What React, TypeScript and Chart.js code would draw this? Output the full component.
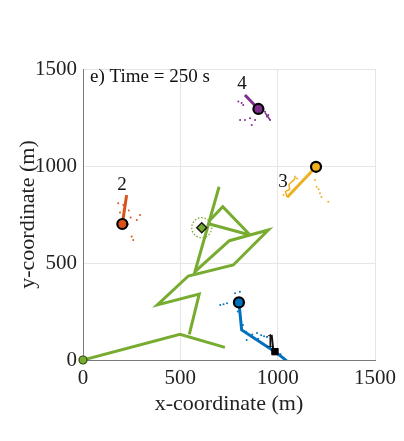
import React, { useEffect, useRef } from "react";
import { Chart, registerables } from "chart.js";

Chart.register(...registerables);

// ---- data ----
const xTicks = [0, 500, 1000, 1500];
const yTicks = [0, 500, 1000, 1500];

const greenStart = [{ x: 0, y: 0 }];
const greenPathA = [
  { x: 0, y: 0 },
  { x: 498, y: 132 },
  { x: 729, y: 65 },
];
const greenPathB = [
  { x: 546, y: 132 },
  { x: 597, y: 340 },
  { x: 382, y: 284 },
  { x: 541, y: 433 },
  { x: 772, y: 490 },
  { x: 952, y: 670 },
  { x: 858, y: 644 },
  { x: 752, y: 615 },
  { x: 575, y: 455 },
  { x: 699, y: 893 },
];
const greenPathC = [
  { x: 649, y: 718 },
  { x: 718, y: 790 },
  { x: 858, y: 644 },
];
const greenPathD = [
  { x: 645, y: 702 },
  { x: 858, y: 644 },
];
const targetPoint = [{ x: 610, y: 682 }];

const agent1Path = [
  { x: 801, y: 297 },
  { x: 815, y: 155 },
  { x: 986, y: 43 },
  { x: 1029, y: 10 },
  { x: 1075, y: -30 },
];
const agent1Heading = [
  { x: 969, y: 129 },
  { x: 977, y: 55 },
];
const agent1Dots = [
  { x: 705, y: 283 }, { x: 722, y: 288 }, { x: 740, y: 292 }, { x: 781, y: 344 },
  { x: 806, y: 352 }, { x: 795, y: 250 }, { x: 810, y: 215 }, { x: 822, y: 180 },
  { x: 838, y: 145 }, { x: 841, y: 103 }, { x: 870, y: 132 }, { x: 894, y: 139 },
  { x: 915, y: 128 }, { x: 930, y: 122 }, { x: 945, y: 119 }, { x: 900, y: 110 },
  { x: 1000, y: 55 }, { x: 1015, y: 30 },
];
const agent1Start = [{ x: 801, y: 297 }];
const agent1End = [{ x: 986, y: 43 }];

const agent2Path = [
  { x: 202, y: 701 },
  { x: 224, y: 850 },
];
const agent2Dots = [
  { x: 207, y: 799 }, { x: 181, y: 808 }, { x: 293, y: 747 }, { x: 276, y: 722 },
  { x: 250, y: 636 }, { x: 258, y: 619 }, { x: 235, y: 770 }, { x: 245, y: 735 },
  { x: 190, y: 760 }, { x: 230, y: 700 },
];
const agent2Pos = [{ x: 202, y: 701 }];

const agent3Path = [
  { x: 1197, y: 996 },
  { x: 1049, y: 839 },
];
const agent3Squiggle = [
  { x: 1049, y: 839 },
  { x: 1040, y: 868 },
  { x: 1062, y: 880 },
  { x: 1058, y: 905 },
  { x: 1085, y: 930 },
  { x: 1092, y: 950 },
];
const agent3Dots = [
  { x: 1200, y: 893 }, { x: 1217, y: 859 }, { x: 1260, y: 816 }, { x: 1192, y: 928 },
  { x: 1210, y: 880 }, { x: 1225, y: 840 }, { x: 1030, y: 850 }, { x: 1100, y: 935 },
];
const agent3Pos = [{ x: 1197, y: 996 }];

const agent4Path = [
  { x: 901, y: 1294 },
  { x: 832, y: 1366 },
];
const agent4Branch = [
  { x: 935, y: 1275 },
  { x: 961, y: 1237 },
];
const agent4Dots = [
  { x: 798, y: 1332 }, { x: 823, y: 1315 }, { x: 832, y: 1237 }, { x: 858, y: 1246 },
  { x: 884, y: 1237 }, { x: 935, y: 1280 }, { x: 952, y: 1263 }, { x: 961, y: 1237 },
  { x: 807, y: 1237 }, { x: 867, y: 1211 }, { x: 815, y: 1325 }, { x: 945, y: 1255 },
];
const agent4Pos = [{ x: 901, y: 1294 }];

const agentLabels = ["1", "2", "3", "4"];
const agentLabelX = [961, 200, 1027, 817];
const agentLabelY = [93, 902, 918, 1423];

const panelTitle = "e) Time = 250 s";

// ---- colours ----
const BLUE = "#0072BD";
const ORANGE = "#D95319";
const YELLOW = "#EDB120";
const PURPLE = "#7E2F8E";
const GREEN = "#77AC30";

const SERIF = "'Liberation Serif', 'DejaVu Serif', serif";

function line(data: any[], color: string, width = 3, order = 5) {
  return {
    type: "line" as const,
    data,
    borderColor: color,
    backgroundColor: color,
    borderWidth: width,
    pointRadius: 0,
    fill: false,
    tension: 0,
    order,
  };
}

function dots(data: any[], color: string) {
  return {
    type: "scatter" as const,
    data,
    borderColor: color,
    backgroundColor: color,
    pointRadius: 1,
    borderWidth: 0,
    order: 8,
  };
}

function marker(data: any[], fill: string, style: any, radius: number, edge = "#000", bw = 2) {
  return {
    type: "scatter" as const,
    data,
    backgroundColor: fill,
    borderColor: edge,
    borderWidth: bw,
    pointRadius: radius,
    pointStyle: style,
    clip: false,
    order: 0,
  };
}

const overlayPlugin = {
  id: "overlay",
  afterDatasetsDraw(chart: any) {
    const { ctx, scales, chartArea } = chart;
    const xs = scales.x;
    const ys = scales.y;
    ctx.save();
    // dotted ring around target
    const tx = xs.getPixelForValue(targetPoint[0].x);
    const ty = ys.getPixelForValue(targetPoint[0].y);
    ctx.beginPath();
    ctx.setLineDash([1.5, 1.8]);
    ctx.strokeStyle = GREEN;
    ctx.lineWidth = 1.3;
    ctx.arc(tx, ty, 10, 0, Math.PI * 2);
    ctx.stroke();
    ctx.setLineDash([]);
    // agent labels
    ctx.fillStyle = "#111";
    ctx.font = `19px ${SERIF}`;
    ctx.textAlign = "center";
    ctx.textBaseline = "middle";
    agentLabels.forEach((t, i) => {
      ctx.fillText(t, xs.getPixelForValue(agentLabelX[i]), ys.getPixelForValue(agentLabelY[i]));
    });
    // panel title
    ctx.textAlign = "left";
    ctx.font = `19px ${SERIF}`;
    ctx.fillText(panelTitle, chartArea.left + 7, chartArea.top + 8);
    ctx.restore();
  },
};

export default function App() {
  const ref = useRef<HTMLCanvasElement | null>(null);

  useEffect(() => {
    if (!ref.current) return;
    const tickFont = { family: SERIF, size: 21 };
    const titleFont = { family: SERIF, size: 22 };
    const chart = new Chart(ref.current, {
      type: "scatter",
      data: {
        datasets: [
          marker(targetPoint, GREEN, "rectRot", 5, "#1a1a1a", 1.5),
          marker(greenStart, GREEN, "circle", 4, "#2f4a10", 1.2),
          marker(agent1End, "#000", "rect", 4.5, "#000", 1),
          marker(agent1Start, BLUE, "circle", 5, "#000", 2.2),
          marker(agent2Pos, ORANGE, "circle", 5, "#000", 2.2),
          marker(agent3Pos, YELLOW, "circle", 5, "#000", 2.2),
          marker(agent4Pos, PURPLE, "circle", 5, "#000", 2.2),
          line(agent1Heading, "#111", 2, 3),
          line(greenPathA, GREEN),
          line(greenPathB, GREEN),
          line(greenPathC, GREEN),
          line(greenPathD, GREEN),
          line(agent1Path, BLUE),
          line(agent2Path, ORANGE),
          line(agent3Path, YELLOW),
          line(agent3Squiggle, YELLOW, 1.5),
          line(agent4Path, PURPLE),
          line(agent4Branch, PURPLE, 1.5),
          dots(agent1Dots, BLUE),
          dots(agent2Dots, ORANGE),
          dots(agent3Dots, YELLOW),
          dots(agent4Dots, PURPLE),
        ] as any,
      },
      options: {
        animation: false,
        responsive: false,
        maintainAspectRatio: false,
        layout: { padding: { left: 0, top: 69, right: 29, bottom: 0 } },
        plugins: { legend: { display: false }, tooltip: { enabled: false } },
        scales: {
          x: {
            type: "linear",
            min: 0,
            max: 1500,
            afterBuildTicks: (s: any) => {
              s.ticks = xTicks.map((v) => ({ value: v }));
            },
            afterFit: (s: any) => {
              s.height = 81;
            },
            grid: { color: "#e6e6e6", drawTicks: false, lineWidth: 1 },
            border: { color: "#7a7a7a", width: 1 },
            ticks: {
              font: tickFont,
              color: "#222",
              padding: 6,
              maxRotation: 0,
              callback: (v: any) => String(v),
            },
            title: {
              display: true,
              text: "x-coordinate (m)",
              font: titleFont,
              color: "#222",
              padding: { top: 0, bottom: 24 },
            },
          },
          y: {
            type: "linear",
            min: 0,
            max: 1500,
            afterBuildTicks: (s: any) => {
              s.ticks = yTicks.map((v) => ({ value: v }));
            },
            afterFit: (s: any) => {
              s.width = 83;
            },
            grid: { color: "#e6e6e6", drawTicks: false, lineWidth: 1 },
            border: { color: "#7a7a7a", width: 1 },
            ticks: {
              font: tickFont,
              color: "#222",
              padding: 6,
              callback: (v: any) => String(v),
            },
            title: {
              display: true,
              text: "y-coordinate (m)",
              font: titleFont,
              color: "#222",
              padding: { top: 15, bottom: 0 },
            },
          },
        },
      },
      plugins: [overlayPlugin],
    });
    return () => chart.destroy();
  }, []);

  return (
    <div style={{ position: "fixed", left: 0, top: 0, width: 404, height: 441, background: "#fff" }}>
      <canvas ref={ref} width={404} height={441} style={{ width: 404, height: 441 }} />
    </div>
  );
}
